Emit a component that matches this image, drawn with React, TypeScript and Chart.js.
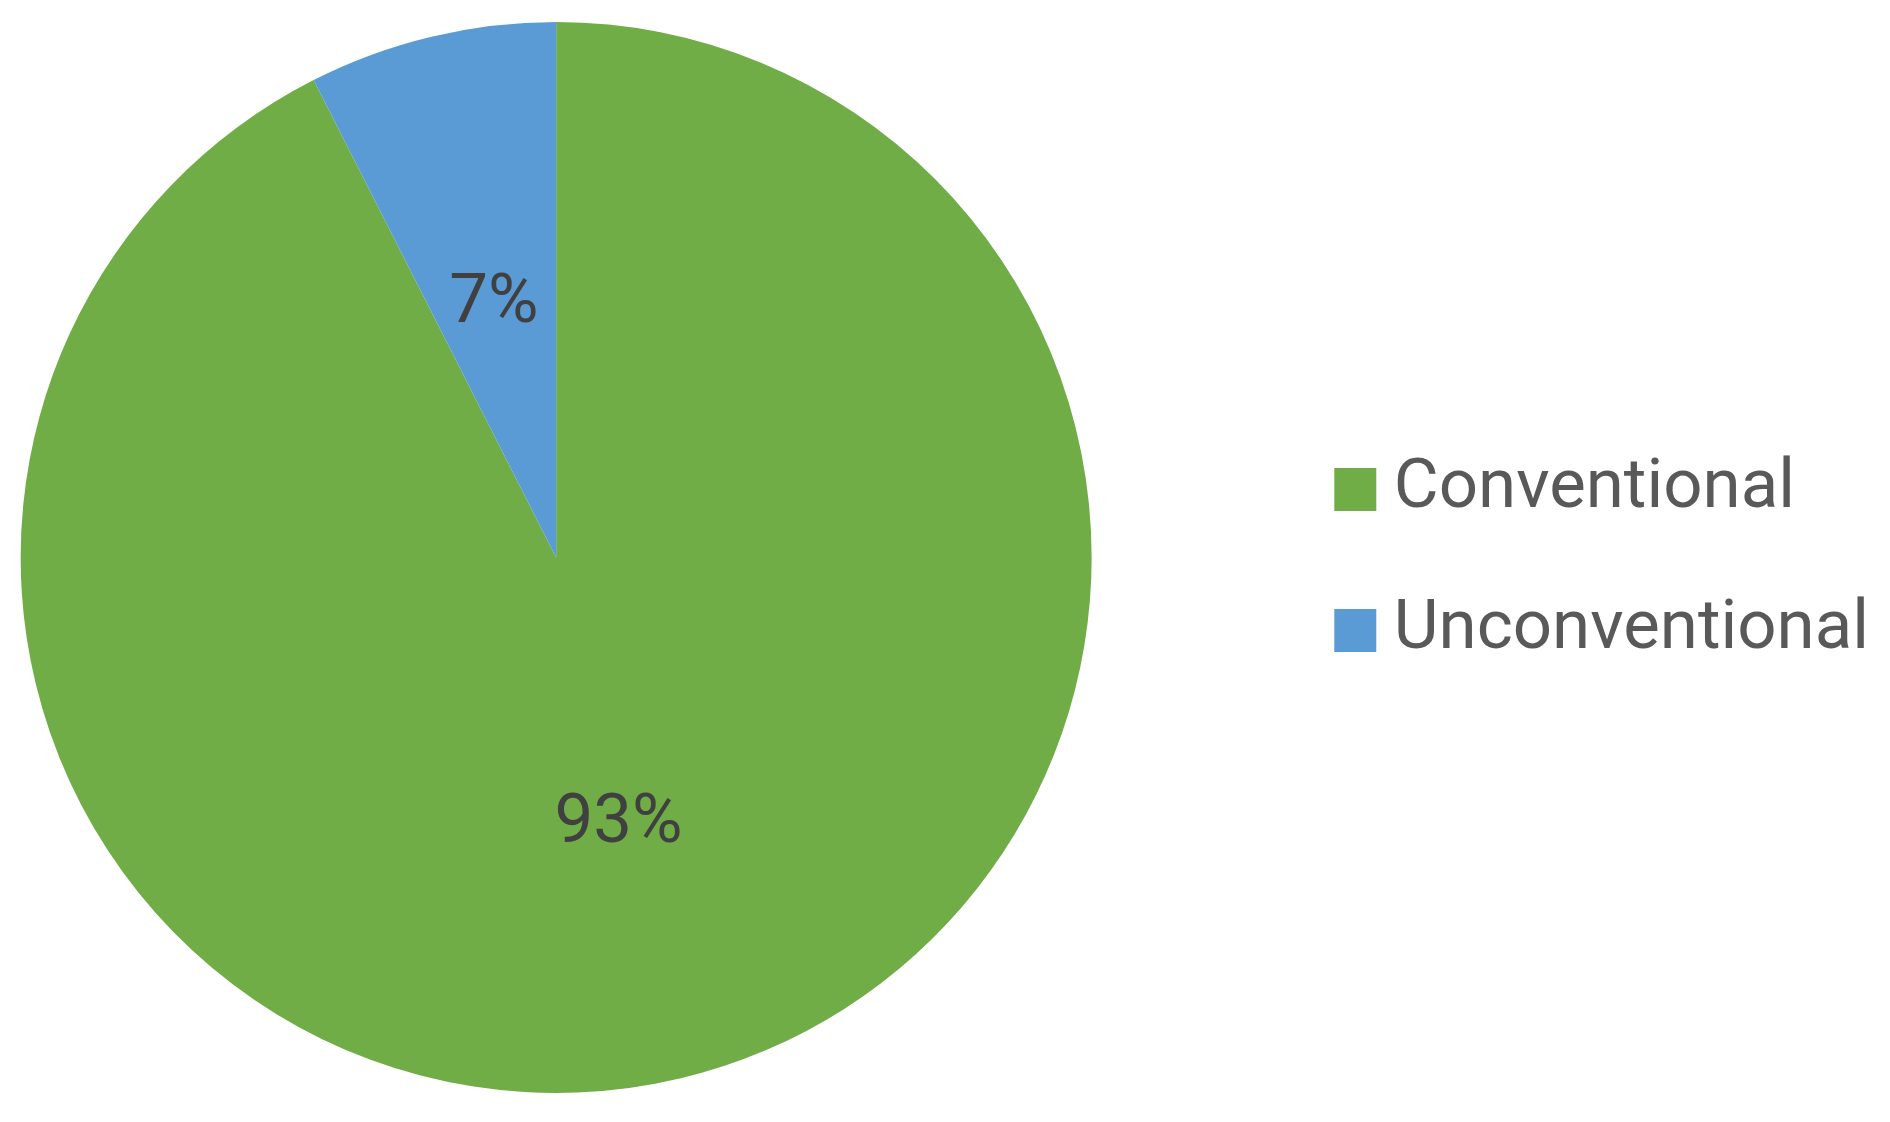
import React, { useEffect, useRef } from "react";
import { Chart, registerables } from "chart.js";

Chart.register(...registerables);

const categories = ["Conventional", "Unconventional"];
const values = [92.52, 7.48];
const colors = ["#70AD47", "#5B9BD5"];

const FONT = "Roboto";
const FONT_SIZE = 69;
const CAP_RATIO = 0.711;
const CANVAS_OFFSET = 167;
const CANVAS_W = 1890 + CANVAS_OFFSET;
const CANVAS_H = 1122;

const pieLabels = {
  id: "pieLabels",
  afterDatasetsDraw(chart: any) {
    const ctx = chart.ctx;
    const meta = chart.getDatasetMeta(0);
    const data = chart.data.datasets[0].data as number[];
    const total = data.reduce((a, b) => a + b, 0);
    ctx.save();
    ctx.font = `${FONT_SIZE}px ${FONT}`;
    ctx.fillStyle = "#404040";
    ctx.textAlign = "center";
    ctx.textBaseline = "alphabetic";
    meta.data.forEach((arc: any, i: number) => {
      const p = arc.getCenterPoint();
      const pct = Math.round((data[i] / total) * 100);
      ctx.fillText(`${pct}%`, p.x, p.y + (CAP_RATIO * FONT_SIZE) / 2);
    });
    ctx.restore();
  },
};

export default function App() {
  const ref = useRef<HTMLCanvasElement>(null);
  useEffect(() => {
    if (!ref.current) return;
    const baseGen = (Chart as any).overrides.doughnut.plugins.legend.labels.generateLabels;
    const chart = new Chart(ref.current, {
      type: "pie",
      data: {
        labels: categories,
        datasets: [
          {
            data: values,
            backgroundColor: colors,
            borderWidth: 0,
          },
        ],
      },
      options: {
        responsive: false,
        animation: false,
        layout: { padding: { top: 22, bottom: 29, left: 0, right: 11 } },
        plugins: {
          tooltip: { enabled: false },
          legend: {
            position: "right",
            align: "center",
            title: { display: true, text: "", padding: 0, font: { size: 5, lineHeight: 1 } },
            labels: {
              color: "#595959",
              font: { family: FONT, size: FONT_SIZE },
              boxWidth: 8,
              boxHeight: 9,
              padding: 72,
              generateLabels: (c: any) =>
                baseGen(c).map((it: any) => ({
                  ...it,
                  strokeStyle: it.fillStyle,
                  lineWidth: 34,
                })),
            },
          },
        },
      },
      plugins: [pieLabels],
    });
    return () => chart.destroy();
  }, []);
  return (
    <div style={{ position: "fixed", left: 0, top: 0, width: 1890, height: 1122, background: "#fff", overflow: "hidden" }}>
      <canvas
        ref={ref}
        width={CANVAS_W}
        height={CANVAS_H}
        style={{ display: "block", position: "absolute", left: -CANVAS_OFFSET, top: 0 }}
      />
    </div>
  );
}
